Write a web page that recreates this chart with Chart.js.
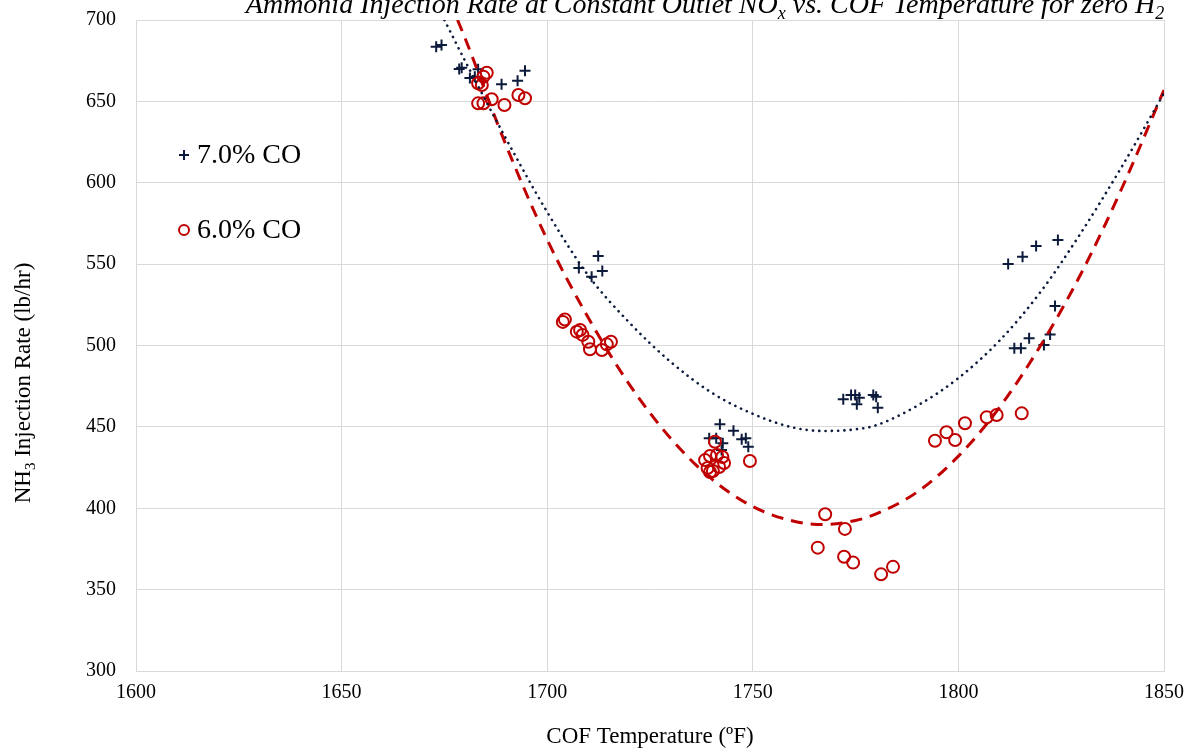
<!DOCTYPE html>
<html><head><meta charset="utf-8">
<script src="https://cdn.jsdelivr.net/npm/chart.js@4.4.0/dist/chart.umd.min.js"></script>
<style>html,body{margin:0;padding:0;background:#fff;overflow:hidden}
#wrap{position:absolute;left:0;top:0;width:1204px;height:755px}</style>
</head><body><div id="wrap"><canvas id="c"></canvas></div>
<script>
// 7.0% CO measurements
const co7Temp = [1673.0,1674.3,1678.6,1679.2,1681.2,1682.4,1683.2,1688.9,1692.8,1694.6,
  1707.7,1710.8,1712.4,1713.4,
  1739.4,1741.1,1742.0,1742.4,1742.7,1745.3,1747.3,1748.3,1748.9,
  1772.0,1773.9,1774.9,1775.3,1775.9,1779.3,1780.0,1780.4,
  1812.1,1813.6,1815.2,1815.6,1817.2,1818.9,1820.8,1822.3,1823.5,1824.2];
const co7Rate = [683.6,684.6,669.9,670.7,664.4,665.2,669.7,660.5,662.7,668.8,
  547.6,542.3,555.0,545.8,
  443.0,443.0,451.6,435.8,440.0,447.6,442.4,443.0,437.8,
  466.9,469.6,469.6,463.9,467.9,469.6,468.5,461.8,
  550.1,498.3,498.3,554.6,504.4,561.1,500.3,506.8,524.3,564.8];
// 6.0% CO measurements
const co6Temp = [1683.2,1684.1,1684.5,1685.3,1683.2,1684.5,1686.5,1689.6,1693.0,1694.6,
  1703.8,1704.3,1707.2,1708.0,1708.6,1710.0,1710.4,1713.3,1714.5,1715.5,
  1738.4,1739.0,1739.6,1739.6,1740.3,1740.8,1741.3,1741.8,1742.6,1743.0,1749.3,
  1765.8,1767.6,1772.2,1772.4,1774.4,1781.2,1784.1,
  1794.3,1797.1,1799.2,1801.6,1806.9,1809.3,1815.4];
const co6Rate = [661.1,660.1,665.2,667.6,648.8,648.8,651.3,647.8,653.9,651.9,
  514.5,516.0,508.5,509.5,506.5,502.3,497.7,497.2,500.7,502.3,
  429.6,424.7,432.1,422.3,422.9,440.9,432.7,425.3,431.5,427.8,429.0,
  375.8,396.3,370.2,387.3,366.6,359.4,364.0,
  441.5,446.7,441.9,452.2,455.9,457.3,458.3];
// trend lines
const fit7Temp = [1675,1680,1690,1700,1710,1720,1730,1740,1750,1760,1767,1775,1780,1790,1800,1810,1820,1830,1840,1850];
const fit7Rate = [700,675,627,582,543,514,490,471,458,449.5,447.5,448.5,451,463,480,503,533,570,611,655];
const fit6Temp = [1678.2,1680,1690,1700,1710,1720,1730,1740,1750,1760,1767,1775,1780,1790,1800,1810,1820,1830,1840,1850];
const fit6Rate = [700,689,623,565,517,476,443,418,401,392,390,392.5,396.5,410,432,462,500,545,598,657];
const xTickValues = [1600,1650,1700,1750,1800,1850];
const yTickValues = [300,350,400,450,500,550,600,650,700];
const seriesLabels = ['7.0% CO','6.0% CO'];
const titleParts = [['Ammonia Injection Rate at Constant Outlet NO',false],['x',true],[' vs. COF Temperature for zero H',false],['2',true]];
const yTitleParts = [['NH',false],['3',true],[' Injection Rate (lb/hr)',false]];
const xTitleText = 'COF Temperature (ºF)';

const SERIF = '"Liberation Serif", "Times New Roman", serif';
const NAVY = '#0c1a3c';
const RED = '#c00000';

function toXY(xs, ys){ return xs.map((x,i)=>({x:x, y:ys[i]})); }

function drawParts(ctx, parts, x, y, size, italic){
  const f = (s)=>`${italic?'italic ':''}${s}px ${SERIF}`;
  let total = 0;
  const w = parts.map(p=>{ ctx.font = p[1]?f(Math.round(size*0.65)):f(size); const m = ctx.measureText(p[0]).width; total+=m; return m; });
  let cx = x - total/2;
  parts.forEach((p,i)=>{ ctx.font = p[1]?f(Math.round(size*0.65)):f(size); ctx.fillText(p[0], cx, p[1]? y+size*0.22 : y); cx += w[i]; });
}

const decor = {
  id:'decor',
  afterDraw(chart){
    const ctx = chart.ctx;
    ctx.save();
    ctx.fillStyle = '#000';
    ctx.textAlign = 'left';
    ctx.textBaseline = 'alphabetic';
    // title (top cut off as in the reference)
    drawParts(ctx, titleParts, 705, 13, 28, true);
    // y title
    ctx.save();
    ctx.translate(30, 383);
    ctx.rotate(-Math.PI/2);
    drawParts(ctx, yTitleParts, 0, 0, 23, false);
    ctx.restore();
    // legend
    const items = [
      {y:155, style:'cross', color:NAVY, r:5, bw:2},
      {y:230, style:'circle', color:RED, r:5, bw:2}
    ];
    items.forEach((it,i)=>{
      ctx.strokeStyle = it.color; ctx.lineWidth = it.bw;
      ctx.beginPath();
      if(it.style==='cross'){ ctx.moveTo(184-it.r,it.y); ctx.lineTo(184+it.r,it.y); ctx.moveTo(184,it.y-it.r); ctx.lineTo(184,it.y+it.r); }
      else { ctx.arc(184,it.y,it.r,0,Math.PI*2); }
      ctx.stroke();
      ctx.fillStyle = '#000';
      ctx.font = `28px ${SERIF}`;
      ctx.textBaseline = 'middle';
      ctx.fillText(seriesLabels[i], 197, it.y+1);
    });
    ctx.restore();
  }
};

new Chart(document.getElementById('c'), {
  type:'scatter',
  data:{ datasets:[
    {label:'7.0% CO trend', data:toXY(fit7Temp, fit7Rate), showLine:true, pointRadius:0, borderColor:NAVY, borderWidth:2.6, borderDash:[0.1,6.2], borderCapStyle:'round', cubicInterpolationMode:'monotone', fill:false, order:0},
    {label:'6.0% CO trend', data:toXY(fit6Temp, fit6Rate), showLine:true, pointRadius:0, borderColor:RED, borderWidth:3, borderDash:[12,8], cubicInterpolationMode:'monotone', fill:false, order:1},
    {label:seriesLabels[0], data:toXY(co7Temp, co7Rate), pointStyle:'cross', pointRadius:5.5, borderColor:NAVY, backgroundColor:NAVY, pointBorderWidth:2, order:3},
    {label:seriesLabels[1], data:toXY(co6Temp, co6Rate), pointStyle:'circle', pointRadius:6, borderColor:RED, backgroundColor:'rgba(0,0,0,0)', pointBorderWidth:2, order:2}
  ]},
  options:{
    responsive:true, maintainAspectRatio:false, animation:false, devicePixelRatio:1,
    layout:{padding:{top:20,right:40,left:0,bottom:0}},
    plugins:{legend:{display:false}, tooltip:{enabled:false}},
    scales:{
      x:{type:'linear', min:1600, max:1850,
        afterBuildTicks(s){ s.ticks = xTickValues.map(v=>({value:v})); },
        afterFit(s){ s.height = 84; s.paddingLeft = 0; s.paddingRight = 0; },
        grid:{color:'#d9d9d9', lineWidth:1, drawTicks:false},
        border:{color:'#d9d9d9'},
        ticks:{font:{family:SERIF, size:20}, color:'#000', padding:10, autoSkip:false, maxRotation:0, callback:(v)=>String(v)},
        title:{display:true, text:xTitleText, font:{family:SERIF, size:23}, color:'#000', padding:{top:0,bottom:4}}
      },
      y:{type:'linear', min:300, max:700,
        afterBuildTicks(s){ s.ticks = yTickValues.map(v=>({value:v})); },
        afterFit(s){ s.width = 136; s.paddingTop = 0; s.paddingBottom = 0; },
        grid:{color:'#d9d9d9', lineWidth:1, drawTicks:false},
        border:{color:'#d9d9d9'},
        ticks:{font:{family:SERIF, size:20}, color:'#000', padding:20, autoSkip:false, callback:(v)=>String(v)}
      }
    }
  },
  plugins:[decor]
});
</script></body></html>
